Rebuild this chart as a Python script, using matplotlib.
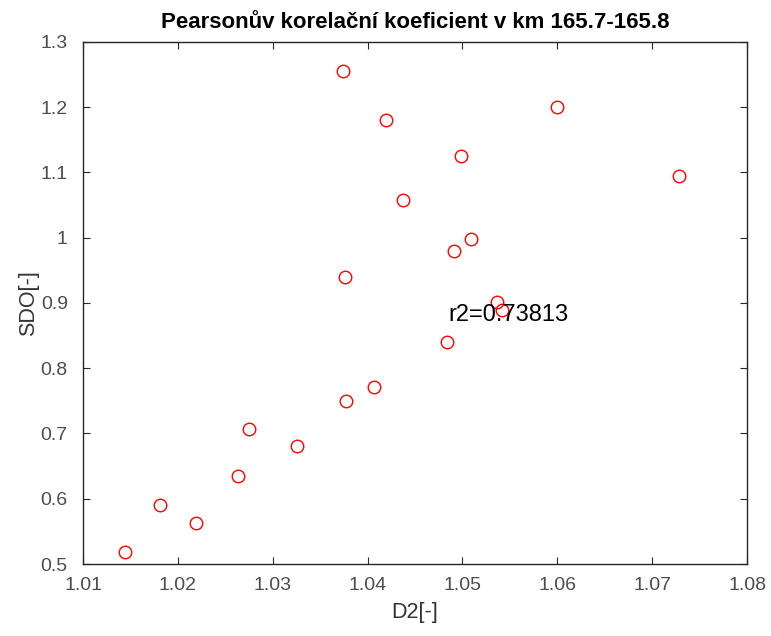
import matplotlib
matplotlib.use('Agg')
import matplotlib.pyplot as plt

# D2 vs SDO values
d2 = [1.0144, 1.0181, 1.0219, 1.0263, 1.0275, 1.0326, 1.0377, 1.0407,
      1.0484, 1.0536, 1.0542, 1.0376, 1.0491, 1.0509, 1.0437, 1.0498,
      1.0419, 1.0374, 1.0600, 1.0728]
sdo = [0.519, 0.590, 0.563, 0.635, 0.707, 0.681, 0.750, 0.772,
       0.840, 0.901, 0.889, 0.940, 0.980, 0.998, 1.058, 1.125,
       1.181, 1.256, 1.200, 1.095]

x_ticks = [1.01, 1.02, 1.03, 1.04, 1.05, 1.06, 1.07, 1.08]
y_ticks = [0.5, 0.6, 0.7, 0.8, 0.9, 1.0, 1.1, 1.2, 1.3]
y_labels = ['0.5', '0.6', '0.7', '0.8', '0.9', '1', '1.1', '1.2', '1.3']
r2_text = 'r2=0.73813'

plt.rcParams['font.family'] = ['Liberation Sans', 'DejaVu Sans']
axis_col = '#262626'

fig = plt.figure(figsize=(7.71, 6.36), dpi=100)
ax = fig.add_axes([0.1077, 0.1132, 0.8612, 0.8208])

ax.plot(d2, sdo, 'o', linestyle='none', markerfacecolor='none',
        markeredgecolor='#ff0000', markersize=9, markeredgewidth=1.0)

ax.text(1.0485, 0.882, r2_text, fontsize=17, color='black',
        ha='left', va='center')

ax.set_xlim(1.01, 1.08)
ax.set_ylim(0.5, 1.3)
ax.set_xticks(x_ticks)
ax.set_xticklabels(['%.2f' % v for v in x_ticks])
ax.set_yticks(y_ticks)
ax.set_yticklabels(y_labels)

ax.tick_params(direction='in', length=5, width=0.8, colors=axis_col,
               labelcolor='#4d4d4d', labelsize=14, top=True, right=True)
ax.tick_params(axis='x', pad=9)
ax.tick_params(axis='y', pad=11)
for s in ax.spines.values():
    s.set_color(axis_col)
    s.set_linewidth(1.0)

ax.set_title('Pearsonův korelační koeficient v km 165.7-165.8',
             fontsize=16, fontweight='bold', pad=10)
ax.set_xlabel('D2[-]', fontsize=15.5, color='#333333', labelpad=6)
ax.set_ylabel('SDO[-]', fontsize=15.5, color='#333333', labelpad=1)

fig.savefig('out.png', dpi=100)
